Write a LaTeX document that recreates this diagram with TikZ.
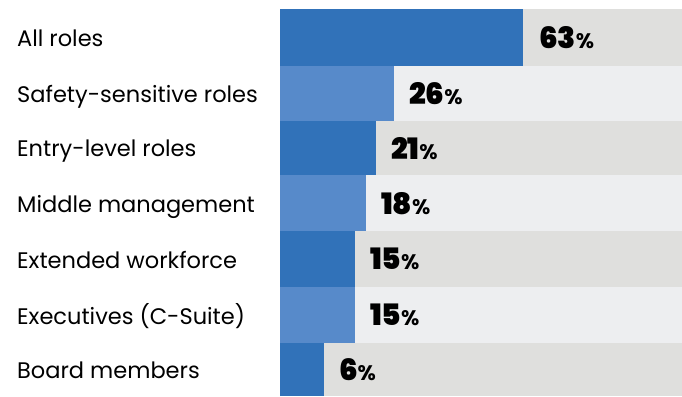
\documentclass[tikz,border=0pt]{standalone}
\usepackage{fontspec}
\setmainfont{Poppins}
\newfontfamily\valuefont{Poppins}[UprightFont=* Black]
\newfontfamily\pctfont{Poppins}[UprightFont=* Bold]
\usetikzlibrary{positioning}
\definecolor{bardark}{HTML}{3172B9}
\definecolor{barlight}{HTML}{578ACA}
\definecolor{trackgrey}{HTML}{DFDFDD}
\definecolor{tracklight}{HTML}{EDEEF0}
\newcommand{\pctvalue}[1]{{\valuefont\fontsize{29.5}{29.5}\selectfont #1}{\pctfont\fontsize{21}{21}\selectfont\%}}
\tikzstyle{box}=[inner sep=0, outer sep=0, anchor=north west]
\tikzstyle{track}=[box, minimum width=402pt]
\tikzstyle{bar}=[box]
\tikzstyle{rolelabel}=[inner sep=0, anchor=base west, font=\fontsize{22.5}{22.5}\selectfont]
\tikzstyle{value}=[inner sep=0, outer sep=0, text depth=0pt]
\tikzstyle{barchart}=[x=1pt, y=-1pt,
                      % Fix the page to the size of the chart.
                      execute at begin picture={\useasboundingbox (0, 0) rectangle (682, 396);}]

\begin{document}
\begin{tikzpicture}[barchart]
        \node[track, fill=trackgrey, minimum height=57pt] (track1) at (280, 9) {};
        \node[bar, fill=bardark, minimum width=243pt, minimum height=57pt] (bar1) at (280, 9) {};
        \node[value, right=16pt of bar1] (val1) {\pctvalue{63}};
        \node[rolelabel] (role1) at (17, 46.5) {All roles};

        \node[track, fill=tracklight, minimum height=55pt] (track2) at (280, 66) {};
        \node[bar, fill=barlight, minimum width=114pt, minimum height=55pt] (bar2) at (280, 66) {};
        \node[value, right=15pt of bar2] (val2) {\pctvalue{26}};
        \node[rolelabel] (role2) at (17, 102.5) {Safety-sensitive roles};

        \node[track, fill=trackgrey, minimum height=54pt] (track3) at (280, 121) {};
        \node[bar, fill=bardark, minimum width=96pt, minimum height=54pt] (bar3) at (280, 121) {};
        \node[value, right=15pt of bar3] (val3) {\pctvalue{21}};
        \node[rolelabel] (role3) at (17, 156.5) {Entry-level roles};

        \node[track, fill=tracklight, minimum height=56pt] (track4) at (280, 175) {};
        \node[bar, fill=barlight, minimum width=86pt, minimum height=56pt] (bar4) at (280, 175) {};
        \node[value, right=15pt of bar4] (val4) {\pctvalue{18}};
        \node[rolelabel] (role4) at (17, 212.5) {Middle management};

        \node[track, fill=trackgrey, minimum height=56pt] (track5) at (280, 231) {};
        \node[bar, fill=bardark, minimum width=75pt, minimum height=56pt] (bar5) at (280, 231) {};
        \node[value, right=15pt of bar5] (val5) {\pctvalue{15}};
        \node[rolelabel] (role5) at (17, 268.5) {Extended workforce};

        \node[track, fill=tracklight, minimum height=56pt] (track6) at (280, 287) {};
        \node[bar, fill=barlight, minimum width=75pt, minimum height=56pt] (bar6) at (280, 287) {};
        \node[value, right=15pt of bar6] (val6) {\pctvalue{15}};
        \node[rolelabel] (role6) at (17, 324.5) {Executives (C-Suite)};

        \node[track, fill=trackgrey, minimum height=53pt] (track7) at (280, 343) {};
        \node[bar, fill=bardark, minimum width=44pt, minimum height=53pt] (bar7) at (280, 343) {};
        \node[value, right=15pt of bar7] (val7) {\pctvalue{6}};
        \node[rolelabel] (role7) at (17, 378.5) {Board members};
    \end{tikzpicture}
\end{document}
